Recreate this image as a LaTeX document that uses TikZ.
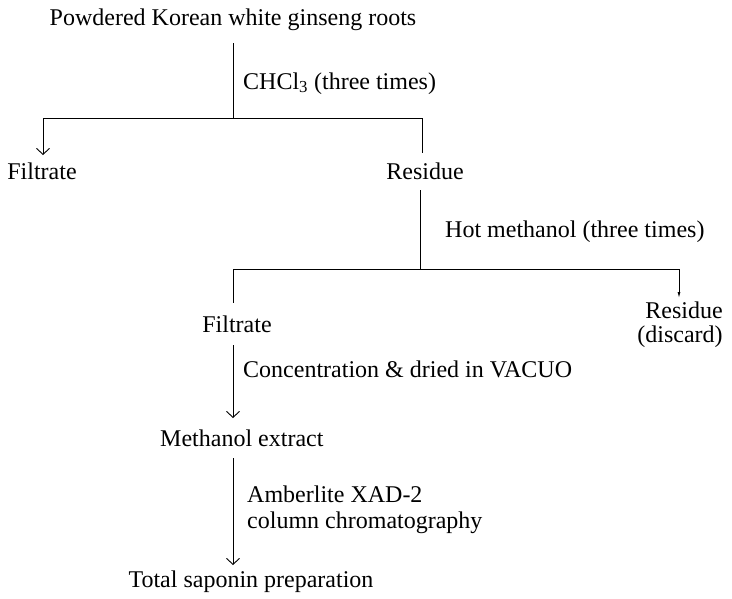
\documentclass[tikz,border=0pt]{standalone}
\usepackage{fontspec}
\setmainfont{Liberation Serif}
\usetikzlibrary{arrows.meta}
\tikzset{
  lbl/.style={inner sep=0pt, font=\fontsize{24}{26}\selectfont},
  ln/.style={line width=0.9pt},
  openarr/.style={ln, -{Straight Barb[length=6pt,width=13pt,line width=0.9pt]}},
  smallarr/.style={ln, -{Latex[length=6pt,width=3pt]}}
}
\begin{document}
\begin{tikzpicture}[x=1pt,y=-1pt]
\useasboundingbox (0,0) rectangle (732,598);
% texts
\node[lbl,anchor=base] (top) at (233,25) {Powdered Korean white ginseng roots};
\node[lbl,anchor=base west] (chcl) at (243,89) {CHCl\textsubscript{3} (three times)};
\node[lbl,anchor=base] (filt1) at (42,179) {Filtrate};
\node[lbl,anchor=base] (res1) at (425,179) {Residue};
\node[lbl,anchor=base west] (hotm) at (445,237) {Hot methanol (three times)};
\node[lbl,anchor=base] (filt2) at (237,332) {Filtrate};
\node[lbl,anchor=base] (res2) at (684,318) {Residue};
\node[lbl,anchor=base] (disc) at (680,342) {(discard)};
\node[lbl,anchor=base west] (conc) at (243,377) {Concentration \& dried in VACUO};
\node[lbl,anchor=base west] (mext) at (160,446) {Methanol extract};
\node[lbl,anchor=base west] (amb) at (247,502) {Amberlite XAD-2};
\node[lbl,anchor=base west] (col) at (247,528) {column chromatography};
\node[lbl,anchor=base] (tot) at (251,587) {Total saponin preparation};
% junctions
\coordinate (t1) at (233,43);
\coordinate (j1) at (233,118);
\coordinate (d1) at (43,155);
\coordinate (d2) at (422,153);
\coordinate (r1) at (420,190);
\coordinate (j2) at (420,269);
\coordinate (d3) at (233,303);
\coordinate (d4) at (679,298);
\coordinate (c1) at (233,345);
\coordinate (c2) at (233,418);
\coordinate (a1) at (233,458);
\coordinate (a2) at (233,565);
% connectors
\draw[ln] (t1) -- (j1);
\draw[openarr] (j1) -| (d1);
\draw[ln] (j1) -| (d2);
\draw[ln] (r1) -- (j2);
\draw[ln] (j2) -| (d3);
\draw[smallarr] (j2) -| (d4);
\draw[openarr] (c1) -- (c2);
\draw[openarr] (a1) -- (a2);
\end{tikzpicture}
\end{document}
